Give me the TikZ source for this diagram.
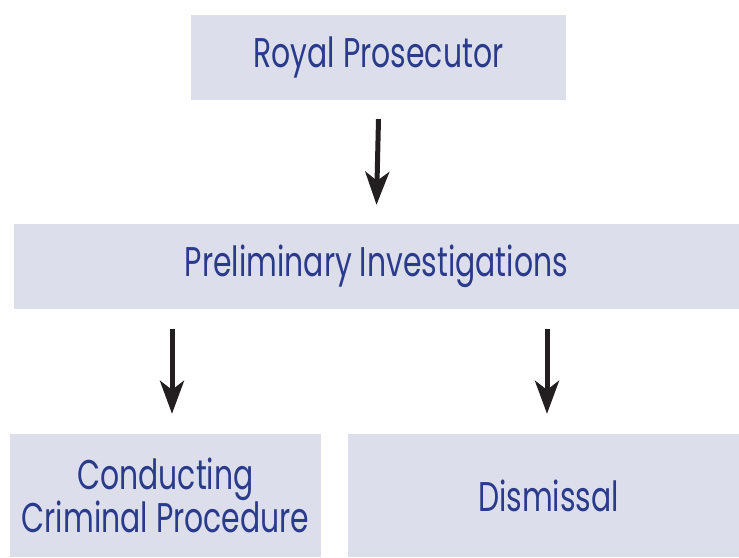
\documentclass[tikz,border=0pt]{standalone}
\usepackage{fontspec}
\setmainfont[FakeStretch=0.72]{Poppins}
\usetikzlibrary{arrows.meta,calc}
\definecolor{boxfill}{HTML}{DCDEEB}
\definecolor{boxtext}{HTML}{2B3B8C}
\definecolor{arrowcol}{HTML}{231F20}
\begin{document}
\begin{tikzpicture}[x=1pt,y=1pt,
  box/.style={fill=boxfill,draw=none,text=boxtext,inner sep=0pt,align=center,
    font=\fontsize{41.5}{35}\selectfont},
  arr/.style={draw=arrowcol,line width=5pt,
    -{Stealth[length=33pt,width=24pt,inset=9pt]}}]
\useasboundingbox (0,0) rectangle (739,557);
\node[box,minimum width=375pt,minimum height=85pt] (royal) at (378.5,499.5) {Royal Prosecutor};
\node[box,minimum width=725pt,minimum height=85pt] (prelim) at (376.5,290.5) {Preliminary Investigations};
\node[box,minimum width=311pt,minimum height=123pt] (cond) at (165.5,61.5) {Conducting\\Criminal Procedure};
\node[box,minimum width=391pt,minimum height=123pt] (dism) at (543.5,61.5) {\hspace*{10pt}Dismissal};
\draw[arr] ([yshift=-19pt]royal.south) -- ([yshift=19pt]prelim.north);
\draw[arr] ([xshift=6.5pt,yshift=-20pt]prelim.south -| cond.north) -- ([xshift=6.5pt,yshift=20pt]cond.north);
\draw[arr] ([xshift=3.5pt,yshift=-20pt]prelim.south -| dism.north) -- ([xshift=3.5pt,yshift=20pt]dism.north);
\end{tikzpicture}
\end{document}
